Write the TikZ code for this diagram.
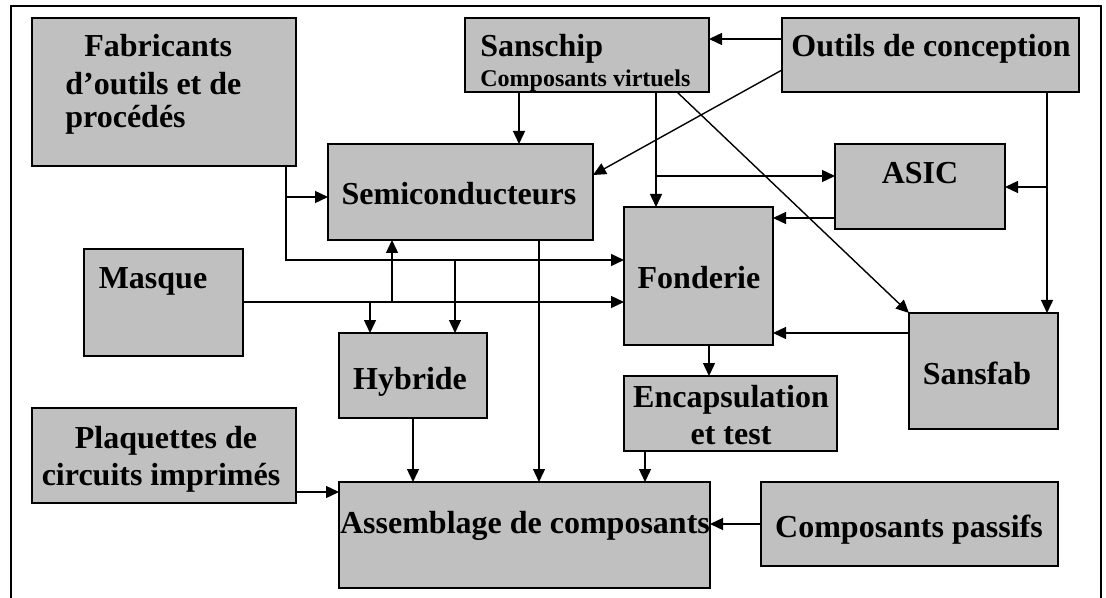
\documentclass[tikz,border=0pt]{standalone}
\usepackage{fontspec}
\setmainfont{Liberation Serif}
\usetikzlibrary{arrows.meta,fit}
\definecolor{boxgray}{RGB}{192,192,192}

\begin{document}
\begin{tikzpicture}[x=0.5pt,y=-0.5pt,
  box/.style={draw=black,fill=boxgray,line width=1pt,inner sep=0pt,outer sep=0pt},
  txt/.style={font=\bfseries\fontsize{16}{18}\selectfont,inner sep=0pt,anchor=base},
  smalltxt/.style={font=\bfseries\fontsize{12}{14}\selectfont,inner sep=0pt,anchor=base west},
  arr/.style={line width=0.7pt,-{Triangle[length=6.5pt,width=6pt]}}]
\useasboundingbox (0,0) rectangle (1106,598);
\draw[line width=1pt] (11,598) -- (11,6) -- (1101,6) -- (1101,598);

\node[box,fit={(32,18) (296,166)}] (fab) {};
\node[box,fit={(465,18) (709,92)}] (sanschip) {};
\node[box,fit={(782,18) (1079,92)}] (outils) {};
\node[box,fit={(328,144) (593,240)}] (semi) {};
\node[box,fit={(835,144) (1005,229)}] (asic) {};
\node[box,fit={(624,207) (773,345)}] (fonderie) {};
\node[box,fit={(84,249) (243,356)}] (masque) {};
\node[box,fit={(339,333) (487,418)}] (hybride) {};
\node[box,fit={(909,313) (1058,429)}] (sansfab) {};
\node[box,fit={(624,376) (837,451)}] (encaps) {};
\node[box,fit={(32,408) (296,503)}] (plaquettes) {};
\node[box,fit={(339,482) (710,588)}] (assemblage) {};
\node[box,fit={(761,482) (1058,566)}] (passifs) {};

\node[txt,anchor=base west] (fab-t1) at (84,57) {Fabricants};
\node[txt,anchor=base west] (fab-t2) at (65,95) {d’outils et de};
\node[txt,anchor=base west] (fab-t3) at (65,128) {procédés};
\node[txt,anchor=base west] (sanschip-t1) at (480,57) {Sanschip};
\node[smalltxt] (sanschip-t2) at (480,87) {Composants virtuels};
\node[txt] (outils-t) at (931,57) {Outils de conception};
\node[txt] (semi-t) at (459,205) {Semiconducteurs};
\node[txt] (asic-t) at (920,184) {ASIC};
\node[txt] (fonderie-t) at (699,289) {Fonderie};
\node[txt] (masque-t) at (153,288) {Masque};
\node[txt] (hybride-t) at (410,389) {Hybride};
\node[txt] (sansfab-t) at (977,384) {Sansfab};
\node[txt] (encaps-t1) at (731,407) {Encapsulation};
\node[txt] (encaps-t2) at (731,444) {et test};
\node[txt] (plaquettes-t1) at (166,448) {Plaquettes de};
\node[txt] (plaquettes-t2) at (161,485) {circuits imprimés};
\node[txt] (assemblage-t) at (525,533) {Assemblage de composants};
\node[txt] (passifs-t) at (909,537) {Composants passifs};

\coordinate (sc-asic) at (656,176);
\coordinate (oc-asic) at (1047,187);
\coordinate (fab-semi) at (286,197);
\coordinate (fab-hyb) at (455,260);
\coordinate (mas-semi) at (392,302);
\coordinate (mas-hyb) at (370,302);

\draw[arr] (outils.west |- 0,39) -- (sanschip.east |- 0,39);
\draw[arr] (outils.west |- 0,70) -- (semi.east |- 0,175);
\draw[arr] (sanschip.south -| 519,0) -- (semi.north -| 519,0);
\draw[arr] (sanschip.south -| 656,0) -- (fonderie.north -| 656,0);
\draw[arr] (sc-asic) -- (asic.west |- sc-asic);
\draw[arr] (sanschip.south -| 677,0) -- (sansfab.north west);
\draw[arr] (outils.south -| 1047,0) -- (sansfab.north -| 1047,0);
\draw[arr] (oc-asic) -- (asic.east |- oc-asic);
\draw[arr] (asic.west |- 0,218) -- (fonderie.east |- 0,218);
\draw[arr] (sansfab.west |- 0,333) -- (fonderie.east |- 0,333);
\draw[arr] (fab.south -| 286,0) |- (fonderie.west |- 0,260);
\draw[arr] (fab-semi) -- (semi.west |- fab-semi);
\draw[arr] (fab-hyb) -- (hybride.north -| fab-hyb);
\draw[arr] (masque.east |- 0,302) -- (fonderie.west |- 0,302);
\draw[arr] (mas-semi) -- (semi.south -| mas-semi);
\draw[arr] (mas-hyb) -- (hybride.north -| mas-hyb);
\draw[arr] (semi.south -| 539,0) -- (assemblage.north -| 539,0);
\draw[arr] (hybride.south -| 413,0) -- (assemblage.north -| 413,0);
\draw[arr] (fonderie.south -| 709,0) -- (encaps.north -| 709,0);
\draw[arr] (encaps.south -| 645,0) -- (assemblage.north -| 645,0);
\draw[arr] (plaquettes.east |- 0,492) -- (assemblage.west |- 0,492);
\draw[arr] (passifs.west |- 0,524) -- (assemblage.east |- 0,524);
\end{tikzpicture}
\end{document}
